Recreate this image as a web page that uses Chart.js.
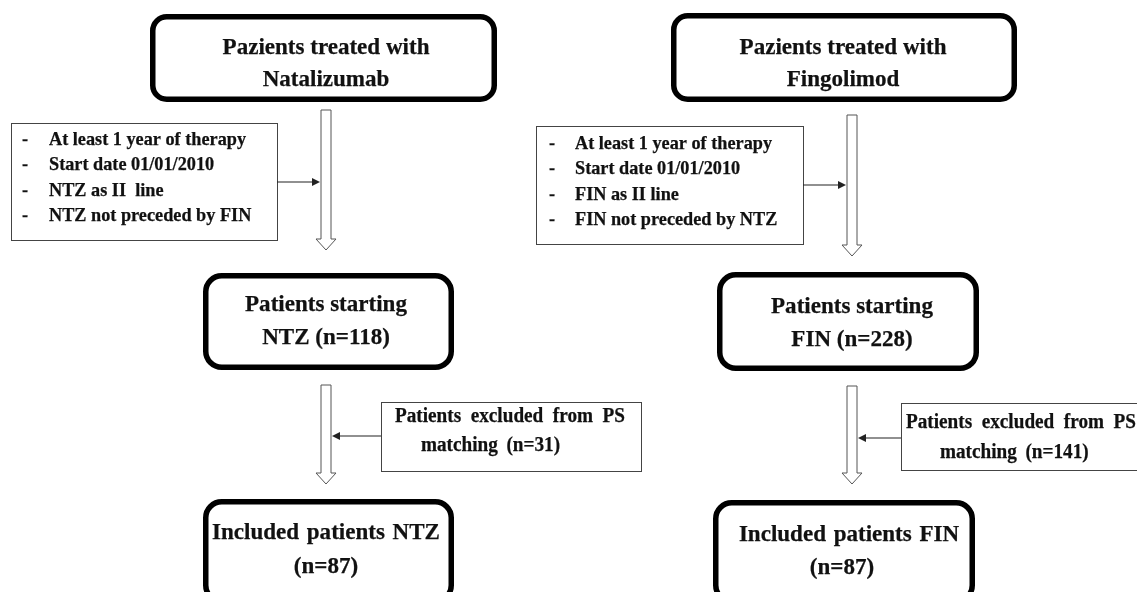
<!DOCTYPE html>
<html>
<head>
<meta charset="utf-8">
<script src="https://cdn.jsdelivr.net/npm/chart.js@4"></script>
<style>
  html, body { margin: 0; padding: 0; background: #fff; }
  #wrap { width: 1137px; height: 592px; }
</style>
</head>
<body>
<div id="wrap"><canvas id="flow" width="1137" height="592"></canvas></div>
<script>
// flow chart data — one entry per arm (NTZ, FIN)
const drugs      = ['Natalizumab', 'Fingolimod'];
const abbrevs    = ['NTZ', 'FIN'];
const startingN  = [118, 228];
const excludedN  = [31, 141];
const includedN  = [87, 87];
const ntzCriteria = ['At least 1 year of therapy', 'Start date 01/01/2010', 'NTZ as II  line', 'NTZ not preceded by FIN'];
const finCriteria = ['At least 1 year of therapy', 'Start date 01/01/2010', 'FIN as II line', 'FIN not preceded by NTZ'];

// geometry in plot units (x 0..1137, y 0..592 top-down)
const layout = [
  {
    top:    { x0: 150, x1: 497, y0: 14, y1: 102, cx: 326, ly: [48, 80] },
    shaft1: { cx: 326, y0: 110, yh: 239, y1: 250 },
    crit:   { x0: 11, x1: 277, y0: 123, y1: 240, dash: 22, tx: 49, ly: [140, 165, 191, 216], ay: 182, ax: 320 },
    mid:    { x0: 203, x1: 454, y0: 273, y1: 370, cx: 326, ly: [305, 338] },
    shaft2: { cx: 326, y0: 385, yh: 473, y1: 484 },
    excl:   { x0: 381, x1: 641, y0: 402, y1: 471, tx1: 395, tx2: 421, ly: [417, 446], ay: 436, ax: 332 },
    bot:    { x0: 203, x1: 454, y0: 499, y1: 604, cx: [326, 326], ly: [533, 567] },
  },
  {
    top:    { x0: 671, x1: 1017, y0: 13, y1: 102, cx: 843, ly: [48, 80] },
    shaft1: { cx: 852, y0: 115, yh: 245, y1: 256 },
    crit:   { x0: 536, x1: 803, y0: 126, y1: 244, dash: 549, tx: 575, ly: [144, 169, 195, 220], ay: 185, ax: 846 },
    mid:    { x0: 717, x1: 979, y0: 272, y1: 371, cx: 852, ly: [307, 340] },
    shaft2: { cx: 852, y0: 386, yh: 473, y1: 484 },
    excl:   { x0: 901, x1: 1160, y0: 403, y1: 470, tx1: 906, tx2: 940, ly: [423, 453], ay: 438, ax: 858 },
    bot:    { x0: 713, x1: 975, y0: 500, y1: 604, cx: [849, 842], ly: [535, 568] },
  },
];

const INK = '#111';

function roundBox(ctx, x0, y0, x1, y1, r, lw, color) {
  const h = lw / 2;
  ctx.save();
  ctx.beginPath();
  ctx.roundRect(x0 + h, y0 + h, x1 - x0 - lw, y1 - y0 - lw, r);
  ctx.fillStyle = '#fff';
  ctx.fill();
  ctx.lineWidth = lw;
  ctx.strokeStyle = color;
  ctx.stroke();
  ctx.restore();
}

function text(ctx, s, x, y, size, align, opts = {}) {
  ctx.save();
  ctx.font = `bold ${size}px "Liberation Serif", "Times New Roman", serif`;
  ctx.fillStyle = INK;
  ctx.strokeStyle = INK;
  ctx.lineWidth = 0.25;
  ctx.textAlign = align;
  ctx.textBaseline = 'middle';
  if (opts.ws) ctx.wordSpacing = opts.ws;
  ctx.translate(x, y);
  ctx.scale(opts.hs || 0.96, 1);
  ctx.fillText(s, 0, 0);
  ctx.strokeText(s, 0, 0);
  ctx.restore();
}

// hollow down arrow
function hollowArrow(ctx, cx, y0, yh, y1) {
  ctx.save();
  ctx.beginPath();
  ctx.moveTo(cx - 5, y0);
  ctx.lineTo(cx + 5, y0);
  ctx.lineTo(cx + 5, yh);
  ctx.lineTo(cx + 10, yh);
  ctx.lineTo(cx, y1);
  ctx.lineTo(cx - 10, yh);
  ctx.lineTo(cx - 5, yh);
  ctx.closePath();
  ctx.fillStyle = '#fff';
  ctx.fill();
  ctx.lineWidth = 1;
  ctx.strokeStyle = '#555';
  ctx.stroke();
  ctx.restore();
}

// thin connector with a small solid head at (x1, y)
function connector(ctx, x0, x1, y) {
  const dir = Math.sign(x1 - x0);
  ctx.save();
  ctx.strokeStyle = '#222';
  ctx.fillStyle = '#222';
  ctx.lineWidth = 1.2;
  ctx.beginPath();
  ctx.moveTo(x0, y);
  ctx.lineTo(x1 - dir * 6, y);
  ctx.stroke();
  ctx.beginPath();
  ctx.moveTo(x1, y);
  ctx.lineTo(x1 - dir * 8, y - 4);
  ctx.lineTo(x1 - dir * 8, y + 4);
  ctx.closePath();
  ctx.fill();
  ctx.restore();
}

function thinBox(ctx, x0, y0, x1, y1) {
  ctx.save();
  ctx.fillStyle = '#fff';
  ctx.fillRect(x0, y0, x1 - x0, y1 - y0);
  ctx.strokeStyle = '#444';
  ctx.lineWidth = 1;
  ctx.strokeRect(x0 + 0.5, y0 + 0.5, x1 - x0, y1 - y0);
  ctx.restore();
}

const flowPlugin = {
  id: 'flow',
  afterDraw(chart) {
    const ctx = chart.ctx;
    const X = v => chart.scales.x.getPixelForValue(v);
    const Y = v => chart.scales.y.getPixelForValue(v);
    const criteria = [ntzCriteria, finCriteria];

    layout.forEach((L, i) => {
      // top box
      const t = L.top;
      roundBox(ctx, X(t.x0), Y(t.y0), X(t.x1), Y(t.y1), 14, 5.5, '#000');
      text(ctx, 'Pazients treated with', X(t.cx), Y(t.ly[0]), 24, 'center');
      text(ctx, drugs[i], X(t.cx), Y(t.ly[1]), 24, 'center');

      // first arrow + criteria box
      const s1 = L.shaft1;
      hollowArrow(ctx, X(s1.cx), Y(s1.y0), Y(s1.yh), Y(s1.y1));
      const c = L.crit;
      thinBox(ctx, X(c.x0), Y(c.y0), X(c.x1), Y(c.y1));
      criteria[i].forEach((line, k) => {
        text(ctx, '-', X(c.dash), Y(c.ly[k]), 19, 'left');
        text(ctx, line, X(c.tx), Y(c.ly[k]), 19, 'left');
      });
      connector(ctx, X(c.x1), X(c.ax), Y(c.ay));

      // patients starting
      const m = L.mid;
      roundBox(ctx, X(m.x0), Y(m.y0), X(m.x1), Y(m.y1), 16, 5.5, '#000');
      text(ctx, 'Patients starting', X(m.cx), Y(m.ly[0]), 24, 'center');
      text(ctx, `${abbrevs[i]} (n=${startingN[i]})`, X(m.cx), Y(m.ly[1]), 24, 'center');

      // second arrow + exclusion box
      const s2 = L.shaft2;
      hollowArrow(ctx, X(s2.cx), Y(s2.y0), Y(s2.yh), Y(s2.y1));
      const e = L.excl;
      thinBox(ctx, X(e.x0), Y(e.y0), X(e.x1), Y(e.y1));
      text(ctx, 'Patients excluded from PS', X(e.tx1), Y(e.ly[0]), 20, 'left', { ws: '5px' });
      text(ctx, `matching (n=${excludedN[i]})`, X(e.tx2), Y(e.ly[1]), 20, 'left', { ws: '4px' });
      connector(ctx, X(e.x0), X(e.ax), Y(e.ay));

      // included patients
      const b = L.bot;
      roundBox(ctx, X(b.x0), Y(b.y0), X(b.x1), Y(b.y1), 16, 5.5, '#000');
      text(ctx, `Included patients ${abbrevs[i]}`, X(b.cx[0]), Y(b.ly[0]), 24, 'center', { ws: '2px' });
      text(ctx, `(n=${includedN[i]})`, X(b.cx[1]), Y(b.ly[1]), 24, 'center');
    });
  }
};

new Chart(document.getElementById('flow'), {
  type: 'scatter',
  data: { datasets: [] },
  options: {
    responsive: false,
    devicePixelRatio: 1,
    animation: false,
    layout: { padding: 0 },
    plugins: { legend: { display: false }, tooltip: { enabled: false } },
    scales: {
      x: { type: 'linear', min: 0, max: 1137, display: false },
      y: { type: 'linear', min: 0, max: 592, reverse: true, display: false },
    },
  },
  plugins: [flowPlugin],
});
</script>
</body>
</html>
